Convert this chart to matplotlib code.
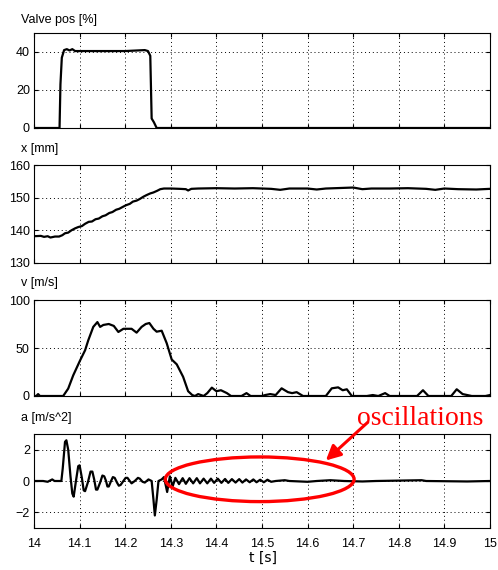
#!/usr/bin/env python3
"""
Valve step test: valve position, piston position, velocity and acceleration.
"""

import matplotlib
matplotlib.use('Agg')
import matplotlib.pyplot as plt
from matplotlib.patches import Ellipse

# (t [s], value) samples
valve_pts = [
    (14.000, 0), (14.056, 0), (14.058, 23), (14.061, 37), (14.066, 41),
    (14.072, 41.5), (14.078, 40.8), (14.084, 41.5), (14.090, 40.5),
    (14.150, 40.5), (14.200, 40.5), (14.243, 41), (14.250, 40.5),
    (14.255, 38), (14.258, 5), (14.263, 3), (14.269, 0), (15.000, 0),
]

pos_pts = [
    (14.000, 138.2), (14.015, 138.3), (14.022, 138.0), (14.030, 138.2),
    (14.036, 137.8), (14.046, 138.1), (14.055, 138.1), (14.062, 138.5),
    (14.068, 139.1), (14.075, 139.3), (14.082, 140.0), (14.090, 140.6),
    (14.097, 141.0), (14.105, 141.3), (14.112, 142.0), (14.120, 142.6),
    (14.127, 142.7), (14.135, 143.4), (14.142, 143.6), (14.150, 144.3),
    (14.157, 144.6), (14.165, 145.3), (14.172, 145.6), (14.180, 146.3),
    (14.187, 146.6), (14.195, 147.2), (14.202, 147.7), (14.210, 148.1),
    (14.217, 148.8), (14.225, 149.1), (14.232, 149.6), (14.240, 150.3),
    (14.247, 150.8), (14.255, 151.3), (14.262, 151.6), (14.270, 152.1),
    (14.277, 152.6), (14.285, 152.8), (14.300, 152.8), (14.320, 152.7),
    (14.333, 152.6), (14.338, 152.2), (14.345, 152.7), (14.360, 152.8),
    (14.400, 152.9), (14.440, 152.8), (14.480, 152.9), (14.520, 152.7),
    (14.540, 152.4), (14.560, 152.8), (14.600, 152.8), (14.620, 152.5),
    (14.640, 152.8), (14.700, 153.1), (14.720, 152.6), (14.740, 152.8),
    (14.780, 152.8), (14.820, 152.9), (14.860, 152.7), (14.880, 152.4),
    (14.900, 152.8), (14.930, 152.6), (14.970, 152.5), (15.000, 152.7),
]

vel_pts = [
    (14.000, 0), (14.005, 0), (14.009, 2), (14.013, 0), (14.060, 0),
    (14.064, 0), (14.075, 7.7), (14.086, 21.5), (14.101, 37), (14.112, 47.6),
    (14.119, 58), (14.130, 72), (14.139, 77), (14.145, 72), (14.152, 74),
    (14.164, 75), (14.175, 73), (14.185, 66.7), (14.196, 70), (14.205, 70),
    (14.214, 70), (14.225, 66), (14.236, 72), (14.245, 75), (14.253, 76),
    (14.262, 70), (14.269, 67), (14.280, 68), (14.291, 55), (14.302, 38),
    (14.313, 33), (14.327, 20), (14.338, 5), (14.347, 1), (14.353, 0),
    (14.360, 2), (14.372, 0), (14.380, 3), (14.390, 8.7), (14.400, 5),
    (14.410, 6), (14.423, 3), (14.432, 0), (14.455, 0), (14.466, 3),
    (14.475, 0), (14.500, 0), (14.507, 1), (14.518, 2), (14.530, 1),
    (14.543, 8), (14.557, 4), (14.566, 3), (14.576, 4), (14.590, 0),
    (14.640, 0), (14.653, 8), (14.667, 9), (14.677, 6), (14.686, 7),
    (14.697, 0), (14.730, 0), (14.743, 1), (14.755, 0), (14.770, 3),
    (14.780, 0), (14.840, 0), (14.853, 6), (14.865, 0), (14.915, 0),
    (14.927, 7), (14.940, 2), (14.960, 0), (14.990, 0), (15.000, 1),
]

acc_pts = [
    (14.000, 0), (14.020, 0), (14.030, -0.05), (14.040, 0.1), (14.045, 0),
    (14.060, 0), (14.063, 0.8), (14.068, 2.5), (14.071, 2.6), (14.075, 2.0),
    (14.080, 0.3), (14.084, -0.8), (14.087, -1.0), (14.092, 0.0),
    (14.097, 0.95), (14.100, 1.0), (14.105, 0.2), (14.109, -0.6),
    (14.112, -0.65), (14.118, -0.1), (14.124, 0.6), (14.128, 0.6),
    (14.132, 0.1), (14.136, -0.55), (14.139, -0.55), (14.145, -0.1),
    (14.150, 0.35), (14.154, 0.3), (14.158, 0.0), (14.161, -0.35),
    (14.164, -0.35), (14.169, 0.0), (14.173, 0.25), (14.177, 0.2),
    (14.182, -0.1), (14.186, -0.3), (14.190, -0.25), (14.196, 0.0),
    (14.201, 0.2), (14.205, 0.2), (14.210, 0.0), (14.214, -0.15),
    (14.221, 0.0), (14.228, 0.2), (14.232, 0.15), (14.238, -0.05),
    (14.243, -0.1), (14.251, 0.1), (14.258, 0.0), (14.262, -1.2),
    (14.265, -2.2), (14.269, -1.2), (14.273, 0.0), (14.280, 0.1),
    (14.285, 0.25), (14.292, -0.7), (14.298, 0.3), (14.304, -0.35),
    (14.310, 0.2), (14.318, -0.2), (14.326, 0.18), (14.333, -0.18),
    (14.341, 0.18), (14.349, -0.15), (14.357, 0.18), (14.364, -0.15),
    (14.372, 0.15), (14.380, -0.15), (14.388, 0.15), (14.395, -0.12),
    (14.403, 0.15), (14.411, -0.12), (14.419, 0.13), (14.426, -0.12),
    (14.434, 0.12), (14.442, -0.1), (14.450, 0.12), (14.457, -0.1),
    (14.465, 0.1), (14.473, -0.08), (14.481, 0.1), (14.488, -0.08),
    (14.496, 0.08), (14.504, -0.08), (14.512, 0.08), (14.520, -0.05),
    (14.530, 0.0), (14.550, 0.05), (14.560, 0.0), (14.600, -0.05),
    (14.620, 0.0), (14.650, 0.05), (14.680, 0.0), (14.720, -0.03),
    (14.750, 0.0), (14.850, 0.05), (14.860, 0.0), (14.950, -0.03),
    (15.000, 0.0),
]

x_ticks = [14, 14.1, 14.2, 14.3, 14.4, 14.5, 14.6, 14.7, 14.8, 14.9, 15]
x_ticklabels = ['14', '14.1', '14.2', '14.3', '14.4', '14.5', '14.6',
                '14.7', '14.8', '14.9', '15']

panels = [
    ('Valve pos [%]', valve_pts, (0, 50), [0, 20, 40]),
    ('x [mm]', pos_pts, (130, 160), [130, 140, 150, 160]),
    ('v [m/s]', vel_pts, (0, 100), [0, 50, 100]),
    ('a [m/s^2]', acc_pts, (-3, 3), [-2, 0, 2]),
]

# highlighted region in the acceleration panel
osc_center = (14.495, 0.11)
osc_size = (0.414, 2.85)

W, H = 498, 570
# axes boxes in pixels: (top, bottom)
boxes = [(33, 128), (165, 263), (300, 396), (434, 528)]
label_y = [20, 149, 283, 418]
AX_L, AX_R = 34, 490

fig = plt.figure(figsize=(W / 100, H / 100), dpi=100)
tick_font = 'Liberation Sans'

axes = []
for (title, pts, ylim, yt), (top, bot), ly in zip(panels, boxes, label_y):
    ax = fig.add_axes([AX_L / W, 1 - bot / H, (AX_R - AX_L) / W, (bot - top) / H])
    t = [p[0] for p in pts]
    y = [p[1] for p in pts]
    ax.plot(t, y, color='black', lw=1.6, solid_joinstyle='round')
    ax.set_xlim(14, 15)
    ax.set_ylim(ylim)
    ax.set_yticks(yt)
    ax.set_xticks(x_ticks)
    ax.grid(True, color='black', linestyle=(0, (1, 3)), lw=0.7)
    ax.tick_params(direction='in', top=True, right=True, length=3,
                   width=0.8, labelsize=9, pad=3)
    for lab in ax.get_yticklabels():
        lab.set_fontfamily(tick_font)
    for s in ax.spines.values():
        s.set_linewidth(0.8)
    ax.set_xticklabels([])
    fig.text(21 / W, 1 - ly / H, title, fontsize=9, family=tick_font,
             ha='left', va='center')
    axes.append(ax)

ax = axes[-1]
ax.set_xticklabels(x_ticklabels, fontfamily=tick_font)
ax.tick_params(axis='x', pad=7)
fig.text(263 / W, 1 - 558 / H, 't [s]', fontsize=10, ha='center', va='center')

ell = Ellipse(osc_center, osc_size[0], osc_size[1], facecolor='none',
              edgecolor='red', lw=2.4, clip_on=False, zorder=5)
ax.add_patch(ell)
ax.annotate('', xy=(14.640, 1.31), xytext=(14.732, 3.75),
            arrowprops=dict(arrowstyle='-|>', color='red', lw=2.2,
                            mutation_scale=22, shrinkA=0, shrinkB=0),
            annotation_clip=False, zorder=6)
ax.text(14.846, 3.56, 'oscillations', color='red', fontsize=20,
        family='Liberation Serif', ha='center', va='baseline', clip_on=False)

plt.savefig('out.png', dpi=100)
